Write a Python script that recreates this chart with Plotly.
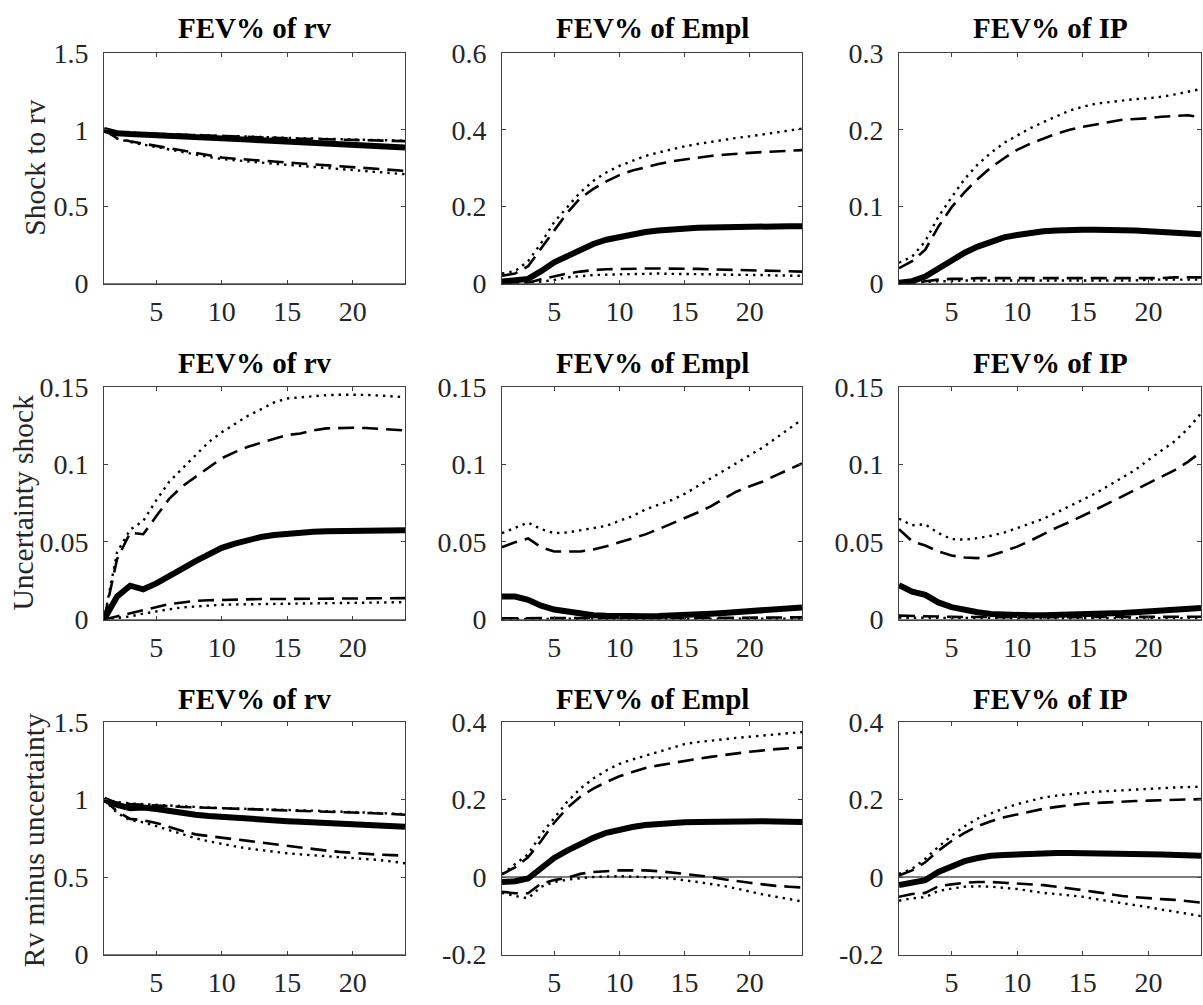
import plotly.graph_objects as go

# ---------------- data ----------------
horizon = list(range(1, 25))

col_titles = ["FEV% of rv", "FEV% of Empl", "FEV% of IP"]
row_labels = ["Shock to rv", "Uncertainty shock", "Rv minus uncertainty"]

# row 1 : shock to rv
r1_rv_med = [1.000, 0.978, 0.972, 0.969, 0.966, 0.962, 0.958, 0.954, 0.949, 0.944, 0.940, 0.936, 0.932, 0.928, 0.924, 0.920, 0.916, 0.912, 0.908, 0.903, 0.898, 0.894, 0.889, 0.884]
r1_rv_up68 = [1.000, 0.984, 0.978, 0.975, 0.972, 0.969, 0.966, 0.963, 0.960, 0.957, 0.954, 0.951, 0.949, 0.946, 0.944, 0.942, 0.940, 0.938, 0.936, 0.934, 0.932, 0.930, 0.928, 0.926]
r1_rv_up90 = [1.000, 0.986, 0.980, 0.977, 0.974, 0.971, 0.968, 0.965, 0.962, 0.959, 0.956, 0.954, 0.951, 0.949, 0.947, 0.945, 0.943, 0.941, 0.939, 0.937, 0.935, 0.933, 0.931, 0.929]
r1_rv_lo68 = [1.000, 0.945, 0.925, 0.910, 0.893, 0.876, 0.861, 0.847, 0.833, 0.820, 0.812, 0.805, 0.799, 0.793, 0.787, 0.781, 0.775, 0.769, 0.763, 0.757, 0.751, 0.745, 0.739, 0.733]
r1_rv_lo90 = [1.000, 0.943, 0.920, 0.904, 0.887, 0.870, 0.853, 0.838, 0.823, 0.810, 0.801, 0.793, 0.786, 0.779, 0.772, 0.765, 0.758, 0.752, 0.746, 0.740, 0.733, 0.726, 0.719, 0.711]

r1_em_med = [0.005, 0.008, 0.012, 0.032, 0.055, 0.071, 0.088, 0.103, 0.114, 0.122, 0.129, 0.134, 0.138, 0.141, 0.143, 0.145, 0.146, 0.147, 0.148, 0.149, 0.149, 0.149, 0.149, 0.149]
r1_em_up68 = [0.020, 0.026, 0.045, 0.092, 0.139, 0.184, 0.222, 0.246, 0.266, 0.282, 0.294, 0.303, 0.311, 0.318, 0.323, 0.328, 0.332, 0.335, 0.338, 0.340, 0.342, 0.344, 0.346, 0.347]
r1_em_up90 = [0.026, 0.032, 0.058, 0.105, 0.160, 0.200, 0.237, 0.267, 0.289, 0.306, 0.320, 0.332, 0.341, 0.350, 0.357, 0.363, 0.369, 0.374, 0.379, 0.383, 0.388, 0.393, 0.398, 0.403]
r1_em_lo68 = [0.000, 0.001, 0.002, 0.011, 0.019, 0.026, 0.031, 0.035, 0.037, 0.038, 0.039, 0.039, 0.039, 0.039, 0.038, 0.038, 0.037, 0.036, 0.036, 0.035, 0.034, 0.033, 0.032, 0.031]
r1_em_lo90 = [0.000, 0.001, 0.002, 0.005, 0.009, 0.016, 0.019, 0.022, 0.023, 0.024, 0.025, 0.025, 0.026, 0.025, 0.025, 0.024, 0.024, 0.023, 0.023, 0.022, 0.022, 0.021, 0.021, 0.020]

r1_ip_med = [0.001, 0.003, 0.009, 0.020, 0.031, 0.040, 0.048, 0.055, 0.060, 0.063, 0.066, 0.068, 0.069, 0.070, 0.070, 0.070, 0.070, 0.069, 0.069, 0.068, 0.067, 0.066, 0.065, 0.064]
r1_ip_up68 = [0.020, 0.029, 0.044, 0.074, 0.099, 0.119, 0.136, 0.151, 0.163, 0.174, 0.182, 0.189, 0.195, 0.200, 0.204, 0.207, 0.210, 0.213, 0.214, 0.215, 0.217, 0.218, 0.219, 0.216]
r1_ip_up90 = [0.027, 0.035, 0.055, 0.087, 0.112, 0.136, 0.155, 0.170, 0.183, 0.193, 0.202, 0.210, 0.218, 0.225, 0.230, 0.234, 0.236, 0.238, 0.240, 0.241, 0.243, 0.246, 0.250, 0.253]
r1_ip_lo68 = [0.000, 0.001, 0.003, 0.005, 0.006, 0.006, 0.007, 0.007, 0.007, 0.007, 0.007, 0.007, 0.007, 0.007, 0.007, 0.007, 0.007, 0.007, 0.007, 0.007, 0.007, 0.008, 0.008, 0.008]
r1_ip_lo90 = [0.000, 0.001, 0.002, 0.003, 0.003, 0.004, 0.004, 0.004, 0.004, 0.004, 0.004, 0.004, 0.004, 0.004, 0.004, 0.004, 0.004, 0.004, 0.004, 0.005, 0.005, 0.005, 0.005, 0.005]

# row 2 : uncertainty shock
r2_rv_med = [0.000, 0.0148, 0.0218, 0.0195, 0.0233, 0.0286, 0.0328, 0.0377, 0.0424, 0.0462, 0.0490, 0.0515, 0.0532, 0.0545, 0.0554, 0.0561, 0.0566, 0.0570, 0.0571, 0.0572, 0.0574, 0.0575, 0.0576, 0.0576]
r2_rv_up68 = [0.000, 0.039, 0.056, 0.055, 0.0667, 0.078, 0.086, 0.092, 0.0985, 0.104, 0.108, 0.1114, 0.114, 0.1166, 0.119, 0.120, 0.122, 0.1233, 0.1237, 0.1237, 0.1235, 0.123, 0.1225, 0.122]
r2_rv_up90 = [0.000, 0.0434, 0.058, 0.0636, 0.077, 0.089, 0.0975, 0.106, 0.1144, 0.1208, 0.126, 0.1314, 0.1356, 0.140, 0.1426, 0.1434, 0.1442, 0.1447, 0.145, 0.1451, 0.1449, 0.1445, 0.144, 0.1434]
r2_rv_lo68 = [0.000, 0.002, 0.004, 0.0064, 0.008, 0.010, 0.011, 0.012, 0.0124, 0.0127, 0.0129, 0.0131, 0.0132, 0.0132, 0.0133, 0.0134, 0.0134, 0.0135, 0.0135, 0.0136, 0.0136, 0.0137, 0.0137, 0.0138]
r2_rv_lo90 = [0.000, 0.001, 0.002, 0.0038, 0.0053, 0.0066, 0.0078, 0.0085, 0.0091, 0.0095, 0.0097, 0.0098, 0.0099, 0.0100, 0.0100, 0.0101, 0.0102, 0.0103, 0.0104, 0.0106, 0.0107, 0.0109, 0.0110, 0.0112]

r2_em_med = [0.0148, 0.0148, 0.0127, 0.0089, 0.0064, 0.0049, 0.0036, 0.0028, 0.0024, 0.0021, 0.0020, 0.0021, 0.0022, 0.0024, 0.0028, 0.0032, 0.0037, 0.0042, 0.0047, 0.0053, 0.0059, 0.0065, 0.0071, 0.0078]
r2_em_up68 = [0.0466, 0.0498, 0.0523, 0.0466, 0.0439, 0.0439, 0.0439, 0.0451, 0.0472, 0.0498, 0.0523, 0.0549, 0.0583, 0.0619, 0.0650, 0.0690, 0.0730, 0.0780, 0.0826, 0.0860, 0.0890, 0.0930, 0.0970, 0.1006]
r2_em_up90 = [0.0557, 0.0593, 0.0625, 0.0583, 0.0557, 0.0561, 0.0576, 0.0587, 0.0604, 0.0636, 0.0667, 0.0710, 0.0742, 0.0770, 0.0810, 0.0860, 0.0910, 0.0960, 0.1010, 0.1060, 0.1110, 0.1170, 0.1230, 0.1290]
r2_em_lo68 = [0.0008, 0.0008, 0.0009, 0.0010, 0.0010, 0.0010, 0.0010, 0.0010, 0.0010, 0.0010, 0.0010, 0.0010, 0.0010, 0.0010, 0.0010, 0.0010, 0.0010, 0.0011, 0.0011, 0.0012, 0.0012, 0.0013, 0.0013, 0.0014]
r2_em_lo90 = [0.0004, 0.0004, 0.0004, 0.0005, 0.0005, 0.0005, 0.0005, 0.0005, 0.0005, 0.0005, 0.0005, 0.0005, 0.0005, 0.0005, 0.0005, 0.0005, 0.0005, 0.0005, 0.0005, 0.0006, 0.0006, 0.0006, 0.0006, 0.0006]

r2_ip_med = [0.0222, 0.0180, 0.0159, 0.0110, 0.0080, 0.0059, 0.0047, 0.0036, 0.0031, 0.0028, 0.0027, 0.0027, 0.0028, 0.0030, 0.0032, 0.0035, 0.0038, 0.0042, 0.0047, 0.0053, 0.0058, 0.0063, 0.0068, 0.0074]
r2_ip_up68 = [0.0583, 0.0505, 0.0477, 0.0439, 0.0413, 0.0400, 0.0396, 0.0413, 0.0440, 0.0470, 0.0508, 0.0551, 0.0593, 0.0629, 0.0667, 0.0710, 0.0752, 0.0794, 0.0837, 0.0879, 0.0922, 0.0964, 0.1017, 0.1080]
r2_ip_up90 = [0.0650, 0.0608, 0.0614, 0.0557, 0.0519, 0.0515, 0.0525, 0.0540, 0.0560, 0.0590, 0.0620, 0.0650, 0.0690, 0.0730, 0.0770, 0.0815, 0.0865, 0.0915, 0.0965, 0.1030, 0.1090, 0.1150, 0.1230, 0.1330]
r2_ip_lo68 = [0.0025, 0.0022, 0.0020, 0.0018, 0.0017, 0.0016, 0.0015, 0.0015, 0.0015, 0.0015, 0.0015, 0.0015, 0.0015, 0.0015, 0.0015, 0.0015, 0.0015, 0.0016, 0.0016, 0.0016, 0.0017, 0.0017, 0.0018, 0.0018]
r2_ip_lo90 = [0.0012, 0.0011, 0.0010, 0.0009, 0.0008, 0.0008, 0.0008, 0.0008, 0.0008, 0.0008, 0.0008, 0.0008, 0.0008, 0.0008, 0.0008, 0.0008, 0.0008, 0.0008, 0.0008, 0.0008, 0.0009, 0.0009, 0.0009, 0.0009]

# row 3 : rv minus uncertainty
r3_rv_med = [1.000, 0.965, 0.944, 0.948, 0.938, 0.923, 0.913, 0.902, 0.894, 0.887, 0.881, 0.875, 0.870, 0.865, 0.860, 0.856, 0.852, 0.849, 0.846, 0.843, 0.838, 0.833, 0.829, 0.824]
r3_rv_up68 = [1.000, 0.980, 0.970, 0.965, 0.959, 0.955, 0.952, 0.949, 0.946, 0.940, 0.937, 0.935, 0.932, 0.930, 0.927, 0.925, 0.923, 0.921, 0.919, 0.917, 0.913, 0.910, 0.906, 0.902]
r3_rv_up90 = [1.000, 0.984, 0.974, 0.969, 0.965, 0.960, 0.956, 0.952, 0.948, 0.944, 0.941, 0.939, 0.936, 0.934, 0.932, 0.930, 0.928, 0.925, 0.923, 0.921, 0.917, 0.914, 0.910, 0.906]
r3_rv_lo68 = [1.000, 0.923, 0.875, 0.866, 0.849, 0.822, 0.796, 0.775, 0.763, 0.754, 0.743, 0.733, 0.722, 0.712, 0.701, 0.691, 0.680, 0.670, 0.662, 0.655, 0.649, 0.644, 0.641, 0.638]
r3_rv_lo90 = [1.000, 0.913, 0.866, 0.853, 0.828, 0.801, 0.775, 0.750, 0.730, 0.712, 0.698, 0.684, 0.673, 0.663, 0.653, 0.646, 0.640, 0.634, 0.628, 0.623, 0.617, 0.610, 0.600, 0.589]

r3_em_med = [-0.013, -0.011, -0.004, 0.025, 0.049, 0.068, 0.086, 0.101, 0.114, 0.123, 0.129, 0.134, 0.137, 0.139, 0.141, 0.142, 0.143, 0.144, 0.144, 0.144, 0.144, 0.143, 0.143, 0.142]
r3_em_up68 = [0.007, 0.025, 0.051, 0.093, 0.140, 0.178, 0.207, 0.228, 0.245, 0.260, 0.271, 0.281, 0.288, 0.294, 0.300, 0.305, 0.310, 0.315, 0.319, 0.323, 0.327, 0.330, 0.332, 0.334]
r3_em_up90 = [0.007, 0.034, 0.059, 0.110, 0.152, 0.194, 0.228, 0.254, 0.275, 0.292, 0.303, 0.313, 0.323, 0.333, 0.343, 0.348, 0.352, 0.355, 0.359, 0.362, 0.365, 0.368, 0.371, 0.374]
r3_em_lo68 = [-0.038, -0.042, -0.042, -0.017, -0.008, -0.002, 0.008, 0.013, 0.015, 0.017, 0.017, 0.017, 0.015, 0.012, 0.008, 0.004, 0.000, -0.006, -0.011, -0.015, -0.019, -0.023, -0.025, -0.027]
r3_em_lo90 = [-0.041, -0.049, -0.055, -0.025, -0.013, -0.007, -0.003, 0.000, 0.001, 0.002, 0.001, 0.000, -0.002, -0.004, -0.008, -0.013, -0.018, -0.023, -0.030, -0.038, -0.045, -0.051, -0.057, -0.063]

r3_ip_med = [-0.021, -0.015, -0.008, 0.013, 0.028, 0.041, 0.049, 0.055, 0.057, 0.059, 0.060, 0.061, 0.062, 0.062, 0.062, 0.062, 0.062, 0.061, 0.060, 0.059, 0.058, 0.057, 0.056, 0.055]
r3_ip_up68 = [0.004, 0.017, 0.038, 0.068, 0.093, 0.114, 0.131, 0.144, 0.154, 0.162, 0.170, 0.176, 0.181, 0.185, 0.189, 0.191, 0.193, 0.194, 0.196, 0.197, 0.198, 0.199, 0.200, 0.201]
r3_ip_up90 = [0.008, 0.021, 0.047, 0.078, 0.106, 0.131, 0.151, 0.165, 0.177, 0.188, 0.197, 0.205, 0.210, 0.214, 0.217, 0.220, 0.222, 0.224, 0.226, 0.228, 0.229, 0.231, 0.232, 0.233]
r3_ip_lo68 = [-0.051, -0.044, -0.041, -0.024, -0.019, -0.015, -0.013, -0.013, -0.015, -0.017, -0.019, -0.021, -0.025, -0.029, -0.034, -0.039, -0.044, -0.049, -0.052, -0.055, -0.057, -0.059, -0.063, -0.066]
r3_ip_lo90 = [-0.061, -0.055, -0.052, -0.036, -0.030, -0.025, -0.024, -0.025, -0.028, -0.031, -0.036, -0.041, -0.044, -0.048, -0.051, -0.057, -0.062, -0.068, -0.073, -0.078, -0.084, -0.089, -0.095, -0.101]

# axis ranges and tick labels
x_range = [1, 24]
x_tickvals = [5, 10, 15, 20]
x_ticktext = ["5", "10", "15", "20"]

y_ranges = [
    [[0, 1.5], [0, 0.6], [0, 0.3]],
    [[0, 0.15], [0, 0.15], [0, 0.15]],
    [[0, 1.5], [-0.2, 0.4], [-0.2, 0.4]],
]
y_tickvals = [
    [[0, 0.5, 1, 1.5], [0, 0.2, 0.4, 0.6], [0, 0.1, 0.2, 0.3]],
    [[0, 0.05, 0.1, 0.15], [0, 0.05, 0.1, 0.15], [0, 0.05, 0.1, 0.15]],
    [[0, 0.5, 1, 1.5], [-0.2, 0, 0.2, 0.4], [-0.2, 0, 0.2, 0.4]],
]
y_ticktext = [
    [["0", "0.5", "1", "1.5"], ["0", "0.2", "0.4", "0.6"], ["0", "0.1", "0.2", "0.3"]],
    [["0", "0.05", "0.1", "0.15"], ["0", "0.05", "0.1", "0.15"], ["0", "0.05", "0.1", "0.15"]],
    [["0", "0.5", "1", "1.5"], ["-0.2", "0", "0.2", "0.4"], ["-0.2", "0", "0.2", "0.4"]],
]

panels = [
    [(r1_rv_med, r1_rv_up68, r1_rv_lo68, r1_rv_up90, r1_rv_lo90),
     (r1_em_med, r1_em_up68, r1_em_lo68, r1_em_up90, r1_em_lo90),
     (r1_ip_med, r1_ip_up68, r1_ip_lo68, r1_ip_up90, r1_ip_lo90)],
    [(r2_rv_med, r2_rv_up68, r2_rv_lo68, r2_rv_up90, r2_rv_lo90),
     (r2_em_med, r2_em_up68, r2_em_lo68, r2_em_up90, r2_em_lo90),
     (r2_ip_med, r2_ip_up68, r2_ip_lo68, r2_ip_up90, r2_ip_lo90)],
    [(r3_rv_med, r3_rv_up68, r3_rv_lo68, r3_rv_up90, r3_rv_lo90),
     (r3_em_med, r3_em_up68, r3_em_lo68, r3_em_up90, r3_em_lo90),
     (r3_ip_med, r3_ip_up68, r3_ip_lo68, r3_ip_up90, r3_ip_lo90)],
]

# ---------------- layout geometry (screen pixels) ----------------
W, H = 1203, 1005
# the page shows the figure in screen rows 8.5 .. 997
SCR_Y0, SCR_H = 8.5, 988.5


def px_x(x):
    return x / W


def px_y(y):
    return 1 - (y - SCR_Y0) / SCR_H


col_px = [(104, 405), (502, 802), (899, 1201)]
row_px = [(47, 281), (386, 622), (726, 962)]
title_y_px = [21.5, 362, 703]
ylabel_x_px = [35.5, 23.3, 34]
ylabel_y_px = [164, 503, 846]

FONT = "Liberation Serif, Times New Roman, serif"
AXCOL = "#262626"

fig = go.Figure()
layout = dict(
    width=W, height=H,
    margin=dict(l=0, r=0, t=0, b=0),
    paper_bgcolor="white", plot_bgcolor="white",
    showlegend=False,
    font=dict(family=FONT, size=28, color=AXCOL),
)
annotations = []

solid = dict(color="black", width=6)
dashed = dict(color="black", width=2.6, dash="16px,8px")
dotted = dict(color="black", width=2.4, dash="2.4px,5px")
zero = dict(color="black", width=1.2)

for r in range(3):
    for c in range(3):
        k = r * 3 + c + 1
        xa = "x" if k == 1 else f"x{k}"
        ya = "y" if k == 1 else f"y{k}"
        x0, x1 = col_px[c]
        top, bot = row_px[r]
        med, u68, l68, u90, l90 = panels[r][c]
        for ys, ln in ((u90, dotted), (l90, dotted), (u68, dashed), (l68, dashed), (med, solid)):
            fig.add_trace(go.Scatter(x=horizon, y=ys, mode="lines", line=ln,
                                     xaxis=xa, yaxis=ya, hoverinfo="skip"))
        fig.add_trace(go.Scatter(x=x_range, y=[0, 0], mode="lines", line=zero,
                                 xaxis=xa, yaxis=ya, hoverinfo="skip"))
        common = dict(showline=True, linecolor="#404040", linewidth=1, mirror="ticks",
                      ticks="inside", ticklen=4, tickcolor="#404040", showgrid=False,
                      zeroline=False, tickmode="array",
                      tickfont=dict(family=FONT, size=28, color=AXCOL))
        layout["xaxis" if k == 1 else f"xaxis{k}"] = dict(
            common, domain=[px_x(x0), px_x(x1)], range=x_range,
            tickvals=x_tickvals, ticktext=x_ticktext,
            anchor=ya, ticklabelstandoff=3)
        layout["yaxis" if k == 1 else f"yaxis{k}"] = dict(
            common, domain=[px_y(bot), px_y(top)], range=y_ranges[r][c],
            tickvals=y_tickvals[r][c], ticktext=y_ticktext[r][c],
            anchor=xa, ticklabelstandoff=9)
        annotations.append(dict(
            text=col_titles[c], xref="paper", yref="paper",
            x=px_x((x0 + x1) / 2), y=px_y(title_y_px[r]),
            xanchor="center", yanchor="middle", showarrow=False,
            font=dict(family=FONT, size=29, color="black", weight="bold")))
    annotations.append(dict(
        text=row_labels[r], xref="paper", yref="paper",
        x=px_x(ylabel_x_px[r]), y=px_y(ylabel_y_px[r]),
        xanchor="center", yanchor="middle", textangle=-90, showarrow=False,
        font=dict(family=FONT, size=29.5, color=AXCOL)))

layout["annotations"] = annotations
fig.update_layout(**layout)

fig.write_html("out.html", config={"displayModeBar": False},
               post_script="document.body.style.margin='0';")
